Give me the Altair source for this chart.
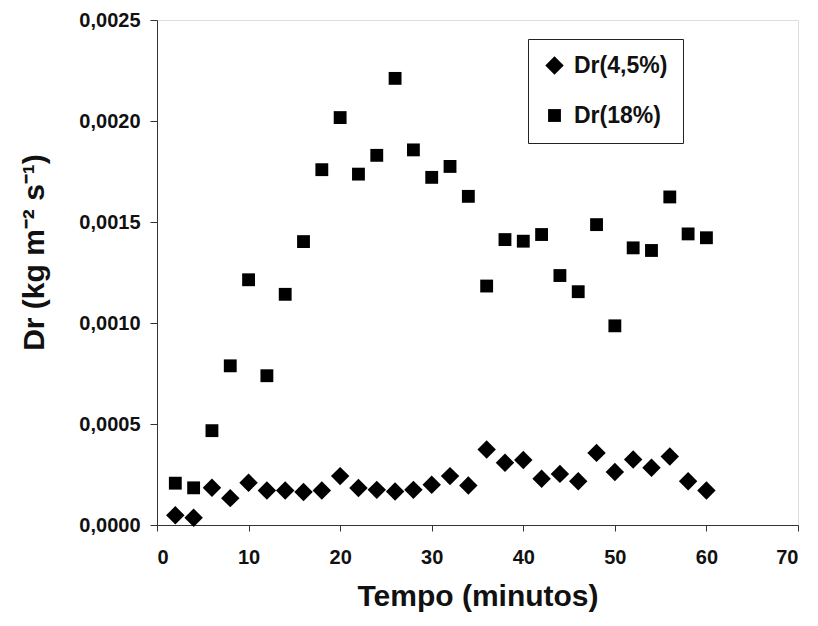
import altair as alt
import pandas as pd

tempo = [2, 4, 6, 8, 10, 12, 14, 16, 18, 20, 22, 24, 26, 28, 30,
         32, 34, 36, 38, 40, 42, 44, 46, 48, 50, 52, 54, 56, 58, 60]

dr_45 = [0.000048, 0.000036, 0.000184, 0.000133, 0.000209, 0.000171, 0.000171,
         0.000163, 0.000171, 0.000242, 0.000183, 0.000174, 0.000166, 0.000174,
         0.000199, 0.000242, 0.000196, 0.000374, 0.000308, 0.000322, 0.000229,
         0.000253, 0.000217, 0.000357, 0.000262, 0.000324, 0.000283, 0.000339,
         0.000217, 0.000171]

dr_18 = [0.000207, 0.000184, 0.000467, 0.000788, 0.001214, 0.000739, 0.001142,
         0.001403, 0.001759, 0.002017, 0.001737, 0.001830, 0.002211, 0.001857,
         0.001721, 0.001775, 0.001627, 0.001183, 0.001413, 0.001405, 0.001438,
         0.001235, 0.001155, 0.001487, 0.000986, 0.001372, 0.001359, 0.001624,
         0.001441, 0.001422]

series_names = ["Dr(4,5%)", "Dr(18%)"]
x_ticks = [0, 10, 20, 30, 40, 50, 60, 70]
y_ticks = [0.0, 0.0005, 0.0010, 0.0015, 0.0020, 0.0025]

rows = []
for name, vals in zip(series_names, [dr_45, dr_18]):
    for t, v in zip(tempo, vals):
        rows.append({"serie": name, "tempo": t, "dr": v})
df = pd.DataFrame(rows)

FONT = "Liberation Sans"

legend = alt.Legend(title=None, orient="none", legendX=371, legendY=19,
                    strokeColor="#222", fillColor="white",
                    padding=15, rowPadding=26, labelOffset=8,
                    labelFont=FONT, labelFontSize=23,
                    labelFontWeight="bold", labelColor="#111")

chart = alt.Chart(df).mark_point(filled=True, opacity=1, strokeWidth=0).encode(
    x=alt.X("tempo:Q",
            scale=alt.Scale(domain=[0, 70], nice=False, zero=True),
            axis=alt.Axis(values=x_ticks, title="Tempo (minutos)", grid=False,
                          tickSize=6, labelPadding=16, labelFontSize=20,
                          labelFont=FONT, labelFontWeight="bold", labelColor="#111",
                          titleFont=FONT, titleFontSize=30, titleFontWeight="bold",
                          titleColor="#111", titleY=80, titleBaseline="alphabetic",
                          domainColor="#333", tickColor="#333")),
    y=alt.Y("dr:Q",
            scale=alt.Scale(domain=[0, 0.0025], nice=False, zero=True),
            axis=alt.Axis(values=y_ticks, title="Dr (kg m⁻² s⁻¹)", grid=False,
                          labelExpr="replace(format(datum.value, '.4f'), '.', ',')",
                          tickSize=7, labelPadding=10, labelFontSize=20,
                          labelFont=FONT, labelFontWeight="bold", labelColor="#111",
                          titleFont=FONT, titleFontSize=30, titleFontWeight="bold",
                          titleColor="#111", titleX=-123, titleY=232,
                          titleBaseline="middle", titleAlign="center",
                          domainColor="#333", tickColor="#333")),
    shape=alt.Shape("serie:N",
                    scale=alt.Scale(domain=series_names, range=["diamond", "square"]),
                    legend=legend),
    color=alt.Color("serie:N",
                    scale=alt.Scale(domain=series_names, range=["#000000", "#000000"]),
                    legend=legend),
    size=alt.Size("serie:N",
                  scale=alt.Scale(domain=series_names, range=[340, 165]),
                  legend=legend),
).properties(
    width=641,
    height=505,
    autosize=alt.AutoSizeParams(type="none"),
    padding={"left": 149, "top": 12, "right": 12, "bottom": 88},
).configure_view(stroke=None).configure(background="white")

chart.save("out.html", embed_options={"renderer": "svg", "actions": False})
